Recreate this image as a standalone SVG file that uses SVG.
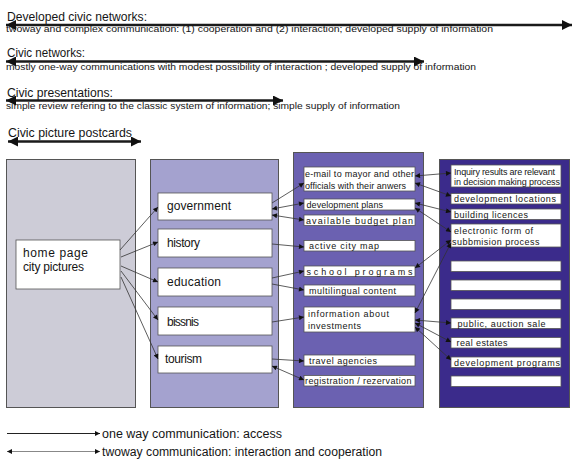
<svg xmlns="http://www.w3.org/2000/svg" width="579" height="468" viewBox="0 0 579 468">
<defs>
<style>
text{font-family:"Liberation Sans",Arial,sans-serif;fill:#151515}
.h{font-size:12px}
.s{font-size:9px}
.b2{font-size:12px}
.b3{font-size:9px}
.b4{font-size:9px}
.lg{font-size:12px}
.panel{stroke:#555;stroke-width:1}
.box{fill:#fff;stroke:#555;stroke-width:0.8}
.big{stroke:#1a1a1a;stroke-width:2.6;fill:none}
.c{stroke:#333;stroke-width:0.8;fill:none}
.one{marker-end:url(#a)}
.two{marker-start:url(#a);marker-end:url(#a)}
</style>
<marker id="a" viewBox="0 0 10 10" refX="10" refY="5" markerWidth="6" markerHeight="5" markerUnits="userSpaceOnUse" orient="auto-start-reverse"><path d="M0,0 L10,5 L0,10 z" fill="#111"/></marker>
<marker id="B" viewBox="0 0 10 10" refX="10" refY="5" markerWidth="11" markerHeight="10" markerUnits="userSpaceOnUse" orient="auto-start-reverse"><path d="M0,0 L10,5 L0,10 z" fill="#111"/></marker>
</defs>

<g id="levels">
<text class="h" x="7" y="21" textLength="140" lengthAdjust="spacingAndGlyphs">Developed civic networks:</text>
<line class="big" x1="6" y1="25" x2="572" y2="25" marker-start="url(#B)" marker-end="url(#B)"/>
<text class="s" x="6" y="32" textLength="487" lengthAdjust="spacingAndGlyphs">twoway and complex communication: (1) cooperation and (2) interaction; developed supply of information</text>

<text class="h" x="7" y="57" textLength="78" lengthAdjust="spacingAndGlyphs">Civic networks:</text>
<line class="big" x1="6" y1="61.5" x2="424" y2="61.5" marker-start="url(#B)" marker-end="url(#B)"/>
<text class="s" x="6" y="70" textLength="470" lengthAdjust="spacingAndGlyphs">mostly one-way communications with modest possibility of interaction ;  developed supply of information</text>

<text class="h" x="7" y="97" textLength="106" lengthAdjust="spacingAndGlyphs">Civic presentations:</text>
<line class="big" x1="6" y1="100.5" x2="283" y2="100.5" marker-start="url(#B)" marker-end="url(#B)"/>
<text class="s" x="6" y="109" textLength="394" lengthAdjust="spacingAndGlyphs">simple review refering to the classic system of information; simple supply of information</text>

<text class="h" x="8" y="137" textLength="124" lengthAdjust="spacingAndGlyphs">Civic picture postcards</text>
<line class="big" x1="8" y1="141.5" x2="141" y2="141.5" marker-start="url(#B)" marker-end="url(#B)"/>
</g>

<g id="panels">
<rect class="panel" x="6.5" y="159.5" width="129" height="248" fill="#cdccd7"/>
<rect class="panel" x="150.5" y="159.5" width="128" height="248" fill="#a4a2cf"/>
<rect class="panel" x="293.5" y="152.5" width="130" height="255" fill="#6b61b1"/>
<rect class="panel" x="439.5" y="159.5" width="130" height="248" fill="#3b2b8b"/>
</g>

<g id="home">
<rect class="box" x="16" y="240" width="104" height="49"/>
<text class="b2" x="23" y="257" textLength="65" lengthAdjust="spacing">home page</text>
<text class="b2" x="23" y="271" textLength="61" lengthAdjust="spacing">city pictures</text>
</g>

<g id="government"><rect class="box" x="158" y="193" width="114" height="27"/><text class="b2" x="167" y="210" textLength="64" lengthAdjust="spacing">government</text></g>
<g id="history"><rect class="box" x="158" y="229" width="114" height="28"/><text class="b2" x="167" y="247" textLength="33" lengthAdjust="spacing">history</text></g>
<g id="education"><rect class="box" x="158" y="268" width="114" height="28"/><text class="b2" x="167" y="286" textLength="54" lengthAdjust="spacing">education</text></g>
<g id="bissnis"><rect class="box" x="158" y="307" width="114" height="28"/><text class="b2" x="167" y="326" textLength="32" lengthAdjust="spacing">bissnis</text></g>
<g id="tourism"><rect class="box" x="158" y="346" width="114" height="27"/><text class="b2" x="165" y="363" textLength="37" lengthAdjust="spacing">tourism</text></g>

<g id="email"><rect class="box" x="304" y="167" width="111" height="24"/><text class="b3" x="305" y="177" textLength="109" lengthAdjust="spacing">e-mail to mayor and other</text><text class="b3" x="305" y="188.5" textLength="101" lengthAdjust="spacing">officials with their anwers</text></g>
<g id="devplans"><rect class="box" x="304" y="199" width="111" height="11"/><text class="b3" x="306.5" y="207.5" textLength="76.5" lengthAdjust="spacing">development plans</text></g>
<g id="budget"><rect class="box" x="304" y="215" width="111" height="10.5"/><text class="b3" x="306" y="223.5" textLength="107" lengthAdjust="spacing">available budget plan</text></g>
<g id="citymap"><rect class="box" x="304" y="240.5" width="111" height="10.5"/><text class="b3" x="309" y="249" textLength="70" lengthAdjust="spacing">active city map</text></g>
<g id="school"><rect class="box" x="304" y="266" width="111" height="10.5"/><text class="b3" x="306.5" y="274.5" textLength="106" lengthAdjust="spacing">school programs</text></g>
<g id="multilingual"><rect class="box" x="304" y="285" width="111" height="11"/><text class="b3" x="309" y="294" textLength="87" lengthAdjust="spacing">multilingual content</text></g>
<g id="investments"><rect class="box" x="304" y="307" width="111" height="25"/><text class="b3" x="308" y="317" textLength="81" lengthAdjust="spacing">information about</text><text class="b3" x="308" y="328.5" textLength="53" lengthAdjust="spacing">investments</text></g>
<g id="travel"><rect class="box" x="304" y="355" width="111" height="11"/><text class="b3" x="309" y="364" textLength="68" lengthAdjust="spacing">travel agencies</text></g>
<g id="registration"><rect class="box" x="304" y="375.5" width="111" height="10.5"/><text class="b3" x="305" y="384" textLength="106.5" lengthAdjust="spacing">registration / rezervation</text></g>

<g id="inquiry"><rect class="box" x="451" y="165" width="110" height="22"/><text class="b4" x="454" y="175" textLength="101" lengthAdjust="spacing">Inquiry results are relevant</text><text class="b4" x="454" y="185" textLength="106" lengthAdjust="spacing">in decision making process</text></g>
<g id="devlocations"><rect class="box" x="451" y="193.5" width="110" height="10.5"/><text class="b4" x="454" y="202" textLength="102" lengthAdjust="spacing">development locations</text></g>
<g id="building"><rect class="box" x="451" y="209" width="110" height="10.5"/><text class="b4" x="454" y="217.5" textLength="74" lengthAdjust="spacing">building licences</text></g>
<g id="electronic"><rect class="box" x="451" y="224" width="110" height="23"/><text class="b4" x="454" y="234" textLength="79" lengthAdjust="spacing">electronic form of</text><text class="b4" x="452" y="245" textLength="87.5" lengthAdjust="spacing">subbmision process</text></g>
<g id="empty1"><rect class="box" x="451" y="261" width="110" height="10.5"/></g>
<g id="empty2"><rect class="box" x="451" y="280" width="110" height="10.5"/></g>
<g id="empty3"><rect class="box" x="451" y="299" width="110" height="10.5"/></g>
<g id="public"><rect class="box" x="451" y="318" width="110" height="10.5"/><text class="b4" x="457.5" y="326.5" textLength="88" lengthAdjust="spacing">public, auction sale</text></g>
<g id="realestates"><rect class="box" x="451" y="337.5" width="110" height="10.5"/><text class="b4" x="456.5" y="346" textLength="51" lengthAdjust="spacing">real estates</text></g>
<g id="devprograms"><rect class="box" x="451" y="357" width="110" height="10.5"/><text class="b4" x="454" y="365.5" textLength="106" lengthAdjust="spacing">development programs</text></g>
<g id="empty4"><rect class="box" x="451" y="376" width="110" height="10.5"/></g>

<g id="connectors">
<path class="c one" d="M120,250 L158,207"/>
<path class="c one" d="M121,257 L158,242"/>
<path class="c one" d="M121,266 L158,282"/>
<path class="c one" d="M121,271 L158,320"/>
<path class="c one" d="M121,277 L158,359"/>

<path class="c one" d="M272,203 L304,183"/>
<path class="c two" d="M272,209 L304,203"/>
<path class="c two" d="M272,215 L304,220"/>
<path class="c one" d="M272,244 L304,247"/>
<path class="c one" d="M272,278 L304,271"/>
<path class="c one" d="M272,284 L304,290"/>
<path class="c one" d="M272,322 L304,317"/>
<path class="c one" d="M272,359 L304,361"/>
<path class="c two" d="M272,366 L304,380"/>

<path class="c two" d="M415,176 L451,173"/>
<path class="c two" d="M415,183 L451,196"/>
<path class="c two" d="M415,203 L451,212"/>
<path class="c two" d="M415,208 L451,232"/>
<path class="c two" d="M415,268 L451,240"/>
<path class="c two" d="M415,313 L451,243"/>
<path class="c two" d="M415,320 L451,323"/>
<path class="c two" d="M415,323 L451,342"/>
<path class="c two" d="M415,327 L451,360"/>
</g>

<g id="legend">
<line x1="7" y1="433.5" x2="100" y2="433.5" stroke="#222" stroke-width="1" marker-end="url(#a)"/>
<text class="lg" x="102" y="437.5" textLength="180" lengthAdjust="spacingAndGlyphs">one way communication: access</text>
<line x1="7" y1="451.5" x2="100" y2="451.5" stroke="#888" stroke-width="1.2" marker-start="url(#a)" marker-end="url(#a)"/>
<text class="lg" x="102" y="455.5" textLength="280" lengthAdjust="spacingAndGlyphs">twoway communication: interaction and cooperation</text>
</g>
</svg>
